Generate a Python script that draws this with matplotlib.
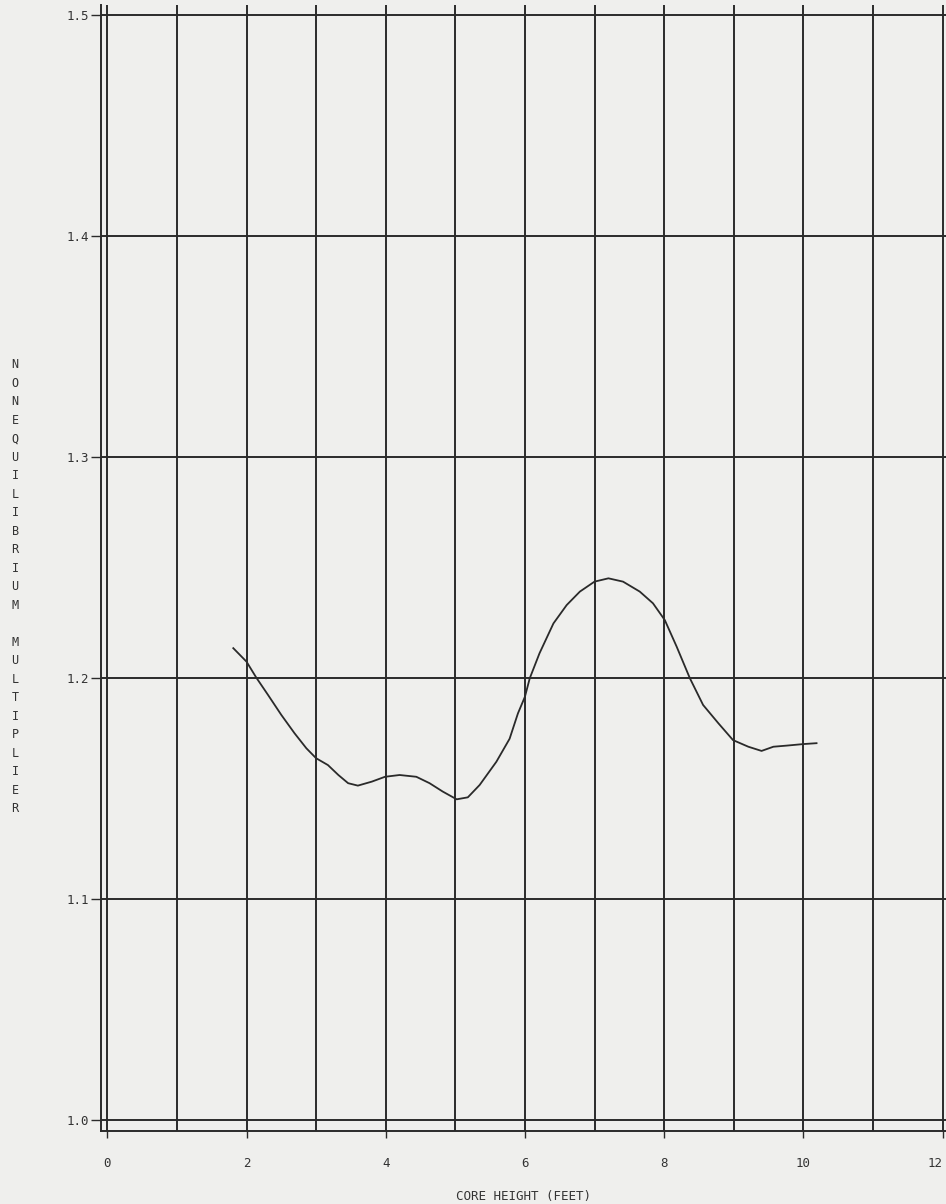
import matplotlib
matplotlib.use("Agg")
import matplotlib.pyplot as plt
from matplotlib.ticker import MultipleLocator

# curve: core height (feet) vs multiplier
height = [1.81, 2.00, 2.14, 2.31, 2.50, 2.69, 2.86, 3.00, 3.17, 3.32, 3.46, 3.60,
          3.80, 3.99, 4.20, 4.44, 4.63, 4.82, 5.02, 5.18, 5.35, 5.59, 5.78, 5.90,
          6.00, 6.07, 6.21, 6.41, 6.60, 6.79, 7.00, 7.20, 7.41, 7.65, 7.84, 8.01,
          8.18, 8.37, 8.56, 8.78, 8.99, 9.21, 9.40, 9.57, 9.76, 10.00, 10.19]
multiplier = [1.2135, 1.2074, 1.2002, 1.1923, 1.1833, 1.1750, 1.1682, 1.1637,
              1.1606, 1.1561, 1.1524, 1.1513, 1.1531, 1.1553, 1.1561, 1.1553,
              1.1524, 1.1486, 1.1451, 1.1460, 1.1516, 1.1621, 1.1725, 1.1840,
              1.1915, 1.1999, 1.2112, 1.2247, 1.2330, 1.2391, 1.2436, 1.2451,
              1.2436, 1.2391, 1.2338, 1.2262, 1.2142, 1.1999, 1.1878, 1.1795,
              1.1719, 1.1689, 1.1670, 1.1689, 1.1694, 1.1701, 1.1705]

x_ticks = [0, 2, 4, 6, 8, 10, 12]
x_labels = ["0", "2", "4", "6", "8", "10", "12"]
y_ticks = [1.0, 1.1, 1.2, 1.3, 1.4, 1.5]
y_labels = ["1.0", "1.1", "1.2", "1.3", "1.4", "1.5"]

ink = "#2a2a2a"
paper = "#efefed"
font = ["DejaVu Sans Mono"]

fig = plt.figure(figsize=(9.46, 12.04), dpi=100, facecolor=paper)
ax = fig.add_axes([0.1068, 0.0606, 0.8932, 0.9352], facecolor=paper)

ax.plot(height, multiplier, color=ink, linewidth=1.3)

ax.set_xlim(-0.09, 12.05)
ax.set_ylim(0.995, 1.5045)

ax.set_xticks(x_ticks)
ax.set_xticklabels(x_labels, family=font, fontsize=9, color="#333333")
ax.get_xticklabels()[-1].set_horizontalalignment("right")
ax.xaxis.set_minor_locator(MultipleLocator(1))
ax.set_yticks(y_ticks)
ax.set_yticklabels(y_labels, family=font, fontsize=9, color="#333333")
ax.yaxis.set_minor_locator(MultipleLocator(0.1))

ax.grid(True, which="both", color=ink, linewidth=1.4)
ax.tick_params(axis="x", which="major", length=5, width=1.0, color=ink, pad=14)
ax.tick_params(axis="y", which="major", length=7, width=1.0, color=ink, pad=2)
ax.tick_params(which="minor", length=0)

for side in ["top", "right"]:
    ax.spines[side].set_visible(False)
for side in ["left", "bottom"]:
    ax.spines[side].set_color(ink)
    ax.spines[side].set_linewidth(1.4)

ax.set_xlabel("CORE HEIGHT (FEET)", family=font, fontsize=9, color="#333333", labelpad=14)

ylabel = "\n".join("NONEQUILIBRIUM MULTIPLIER")
fig.text(0.016, 0.5125, ylabel, family=font, fontsize=8.5, color="#333333",
         ha="center", va="center", linespacing=1.55)

fig.savefig("out.png", dpi=100, facecolor=paper)
